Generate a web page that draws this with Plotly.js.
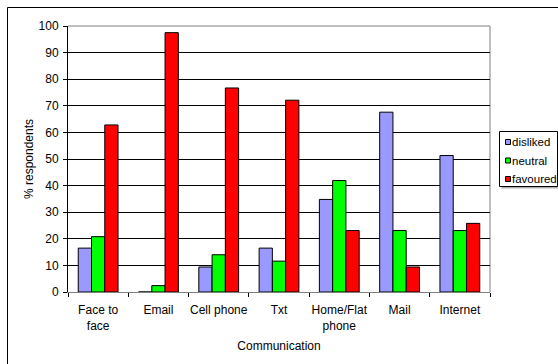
<!DOCTYPE html>
<html>
<head>
<meta charset="utf-8">
<script src="https://cdn.plot.ly/plotly-3.0.1.min.js"></script>
<style>
  html, body { margin: 0; padding: 0; background: #fff; }
  #chart { width: 558px; height: 364px; }
</style>
</head>
<body>
<div id="chart"></div>
<script>
// Communication methods and the share of respondents per opinion
const categories = ["Face to<br>face", "Email", "Cell phone", "Txt", "Home/Flat<br>phone", "Mail", "Internet"];
const disliked  = [16.5, 0,    9.4,  16.5, 34.8, 67.6, 51.3];
const neutral   = [20.8, 2.4,  14.0, 11.6, 41.9, 23.1, 23.1];
const favoured  = [62.8, 97.5, 76.7, 72.1, 23.1, 9.4,  25.8];
const seriesNames  = ["disliked", "neutral", "favoured"];
const seriesColors = ["#9999ff", "#00ff00", "#ff0000"];
const yTicks    = [0, 10, 20, 30, 40, 50, 60, 70, 80, 90, 100];

const font = { family: "Liberation Sans, Arial, sans-serif", size: 12, color: "#000" };
const legendFont = { family: font.family, size: 11.5, color: "#000" };

const values = [disliked, neutral, favoured];
const data = seriesNames.map((name, i) => ({
  type: "bar", name: name, x: categories, y: values[i],
  marker: { color: seriesColors[i], line: { color: "#000", width: 1 } },
  hoverinfo: "skip", showlegend: false
}));

const L = 68, R = 68, T = 26, B = 72, W = 558, H = 364;
const pw = W - L - R, ph = H - T - B;
// pixel position -> paper coordinates
const px = v => (v - L) / pw;
const py = v => (H - B - v) / ph;

const shapes = [
  // grey border on the top and right of the plotting area
  { type: "line", xref: "paper", yref: "paper", x0: 0, x1: 1, y0: 1, y1: 1,
    line: { color: "#808080", width: 1 }, layer: "below" },
  { type: "line", xref: "paper", yref: "paper", x0: 1, x1: 1, y0: 0, y1: 1,
    line: { color: "#808080", width: 1 }, layer: "below" },
  // outer chart frame
  { type: "rect", xref: "paper", yref: "paper",
    x0: px(7.5), x1: px(W + 5), y0: py(H + 5), y1: py(7.5),
    line: { color: "#000", width: 1 }, fillcolor: "rgba(0,0,0,0)", layer: "below" },
  // legend box with a soft shadow
  { type: "rect", xref: "paper", yref: "paper",
    x0: px(501.5), x1: px(559), y0: py(188.5), y1: py(133.5),
    line: { width: 0 }, fillcolor: "#b0b0b0", layer: "above" },
  { type: "rect", xref: "paper", yref: "paper",
    x0: px(499.5), x1: px(557.5), y0: py(186.5), y1: py(131.5),
    line: { color: "#000", width: 1 }, fillcolor: "#fff", layer: "above" }
];
const annotations = [];
const legendRows = [142, 160.5, 179];
seriesNames.forEach((name, i) => {
  const cy = legendRows[i];
  shapes.push({ type: "rect", xref: "paper", yref: "paper",
    x0: px(505.5), x1: px(510.5), y0: py(cy + 2.5), y1: py(cy - 2.5),
    line: { color: "#000", width: 1 }, fillcolor: seriesColors[i], layer: "above" });
  annotations.push({ xref: "paper", yref: "paper", x: px(511), y: py(cy),
    xanchor: "left", yanchor: "middle", showarrow: false, borderpad: 0,
    text: name, font: legendFont });
});

const layout = {
  width: W, height: H,
  margin: { l: L, r: R, t: T, b: B, pad: 0, autoexpand: false },
  paper_bgcolor: "#fff", plot_bgcolor: "#fff",
  font: font,
  barmode: "group", bargap: 0.34, bargroupgap: 0,
  showlegend: false,
  xaxis: {
    type: "category", tickson: "boundaries", tickangle: 0,
    ticks: "outside", ticklen: 4, tickcolor: "#000", ticklabelstandoff: 7,
    showline: true, linecolor: "#808080", linewidth: 1,
    showgrid: false, tickfont: font, automargin: false,
    title: { text: "Communication", font: font, standoff: 9 }
  },
  yaxis: {
    range: [0, 100], tickvals: yTicks, ticktext: yTicks.map(String),
    ticks: "outside", ticklen: 4, tickcolor: "#000", ticklabelstandoff: 2,
    showline: true, linecolor: "#000", linewidth: 1,
    showgrid: true, gridcolor: "#000", gridwidth: 1,
    zeroline: false, tickfont: font, automargin: false,
    title: { text: "% respondents", font: font, standoff: 2 }
  },
  shapes: shapes,
  annotations: annotations
};

Plotly.newPlot("chart", data, layout, { staticPlot: true, displayModeBar: false });
</script>
</body>
</html>
